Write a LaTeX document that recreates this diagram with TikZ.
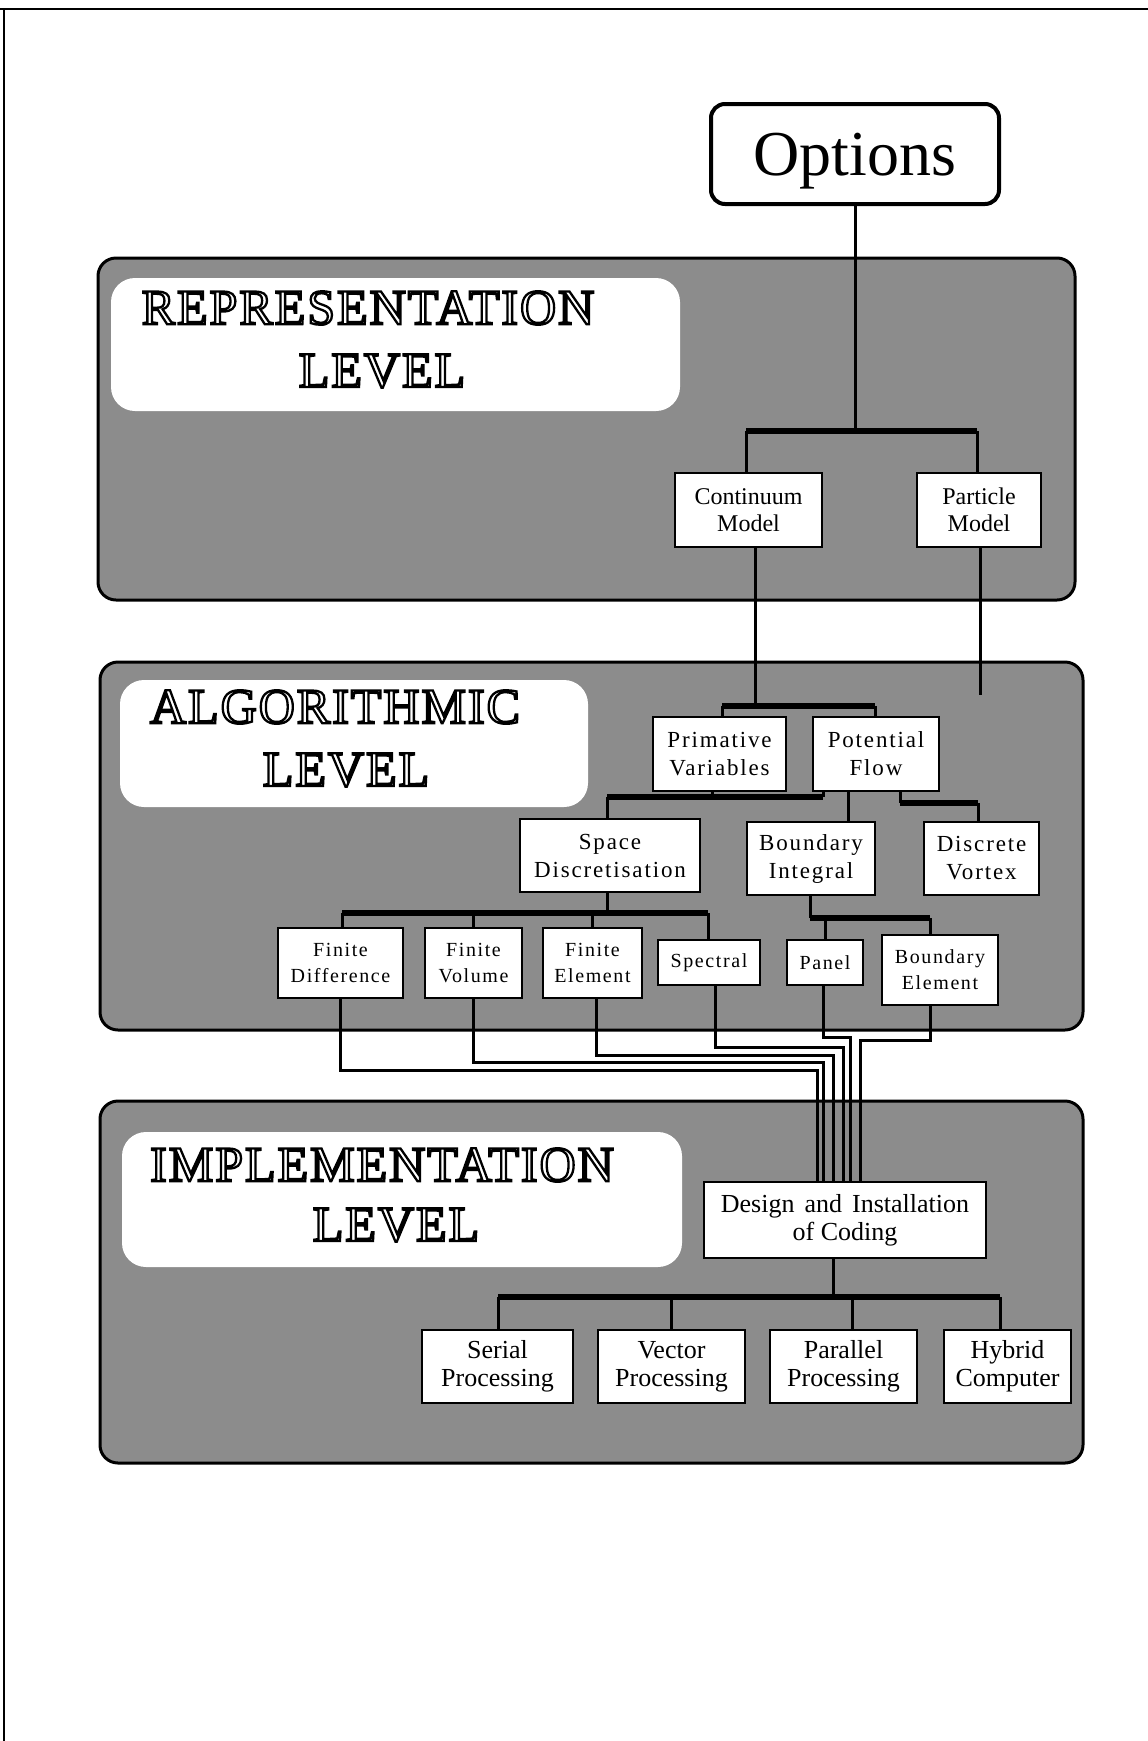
\documentclass[tikz,border=0pt]{standalone}
\usepackage{fontspec}
\setmainfont{Liberation Serif}
\newfontfamily\titlefont[LetterSpace=4]{Liberation Serif}
\newfontfamily\spacedfont[LetterSpace=8]{Liberation Serif}

% outlined capitals: white letters with a heavy black stroked outline
\newcommand\engraved[1]{%
  \special{pdf:literal direct 2 Tr 2.3 w 0 0 0 RG 1 1 1 rg}#1%
  \special{pdf:literal direct 0 Tr 0.4 w 0 0 0 RG 0 0 0 rg}}

\begin{document}
\begin{tikzpicture}[x=1pt, y=-1pt,
  panel/.style={draw=black, line width=3pt, fill=black!45, rounded corners=18pt, inner sep=0pt},
  titlebox/.style={fill=white, rounded corners=24pt, inner sep=0pt},
  titletext/.style={font=\titlefont\fontsize{50}{50}\selectfont, inner sep=0pt},
  box/.style={draw=black, line width=2.6pt, fill=white, inner sep=0pt, align=center},
  repbox/.style={box, font=\fontsize{24}{27}\selectfont},
  algbox/.style={box, font=\spacedfont\fontsize{23}{28}\selectfont},
  subbox/.style={box, font=\spacedfont\fontsize{20}{26}\selectfont},
  impbox/.style={box, font=\fontsize{26}{28}\selectfont},
  wire/.style={line width=3pt},
  bus/.style={line width=5.5pt}
]
\useasboundingbox (0,0) rectangle (1148,1741);

% page frame (top and left edges)
\draw[line width=2pt] (0,9) -- (1148,9);
\draw[line width=2pt] (4,9) -- (4,1741);

% ---------- level panels ----------
\node[panel, minimum width=977pt, minimum height=342pt] (reppanel) at (586.5,429) {};
\node[panel, minimum width=983pt, minimum height=368pt] (algpanel) at (591.5,846) {};
\node[panel, minimum width=983pt, minimum height=362pt] (imppanel) at (591.5,1282) {};

\node[titlebox, minimum width=569pt, minimum height=133pt] (reptitle) at (395.5,344.5) {};
\node[titlebox, minimum width=468pt, minimum height=127pt] (algtitle) at (354,743.5) {};
\node[titlebox, minimum width=560pt, minimum height=135pt] (imptitle) at (402,1199.5) {};

\node[titletext] (repA) at (368,308) {\engraved{REPRESENTATION}};
\node[titletext] (repB) at (382,371) {\engraved{LEVEL}};
\node[titletext] (algA) at (335,707) {\engraved{ALGORITHMIC}};
\node[titletext] (algB) at (346,770) {\engraved{LEVEL}};
\node[titletext] (impA) at (382,1165) {\engraved{IMPLEMENTATION}};
\node[titletext] (impB) at (396,1225) {\engraved{LEVEL}};

% ---------- nodes ----------
\node[box, line width=4pt, rounded corners=14pt, minimum width=288pt, minimum height=100pt,
      text depth=0pt, font=\fontsize{64}{64}\selectfont] (opt) at (855,154) {Options};

\node[repbox, minimum width=147pt, minimum height=74pt] (cont) at (748.5,510) {Continuum\\Model};
\node[repbox, minimum width=124pt, minimum height=74pt] (part) at (979,510) {Particle\\Model};

\node[algbox, minimum width=133pt, minimum height=74pt] (prim) at (719.5,754) {Primative\\Variables};
\node[algbox, minimum width=126pt, minimum height=74pt] (pot) at (876,754) {Potential\\Flow};

\node[algbox, minimum width=180pt, minimum height=73pt] (space) at (610,855.5) {Space\\Discretisation};
\node[algbox, minimum width=128pt, minimum height=73pt] (bint) at (811,858.5) {Boundary\\Integral};
\node[algbox, minimum width=115pt, minimum height=73pt] (dvort) at (981.5,858.5) {Discrete\\Vortex};

\node[subbox, minimum width=125pt, minimum height=70pt] (fd) at (340.5,963) {Finite\\Difference};
\node[subbox, minimum width=97pt, minimum height=70pt] (fv) at (473.5,963) {Finite\\Volume};
\node[subbox, minimum width=99pt, minimum height=70pt] (fe) at (592.5,963) {Finite\\Element};
\node[subbox, minimum width=102pt, minimum height=45pt] (spec) at (709,962.5) {Spectral};
\node[subbox, minimum width=76pt, minimum height=45pt] (panelbox) at (825,962.5) {Panel};
\node[subbox, minimum width=116pt, minimum height=70pt] (belem) at (940,970) {Boundary\\Element};

\node[impbox, minimum width=282pt, minimum height=76pt] (design) at (845,1220)
  {Design\hspace{10pt}and\hspace{10pt}Installation\\of Coding};
\node[impbox, minimum width=151pt, minimum height=73pt] (serial) at (497.5,1366.5) {Serial\\Processing};
\node[impbox, minimum width=147pt, minimum height=73pt] (vector) at (671.5,1366.5) {Vector\\Processing};
\node[impbox, minimum width=147pt, minimum height=73pt] (parallel) at (843.5,1366.5) {Parallel\\Processing};
\node[impbox, minimum width=127pt, minimum height=73pt] (hybrid) at (1007.5,1366.5) {Hybrid\\Computer};

% ---------- representation level connectors ----------
\coordinate (rbL) at (746,431);
\coordinate (rbR) at (977,431);
\draw[wire] (opt.south) -- (opt.south |- rbL);
\draw[bus] (rbL) -- (rbR);
\draw[wire] (rbL) -- (rbL |- cont.north);
\draw[wire] (rbR) -- (rbR |- part.north);

% ---------- algorithmic level connectors ----------
\coordinate (ab) at (755,706);
\coordinate (abL) at (722,706);
\coordinate (abR) at (875,706);
\coordinate (pend) at (980,695);
\draw[wire] (ab |- cont.south) -- (ab);
\draw[wire] (pend |- part.south) -- (pend);
\draw[bus] (abL) -- (abR);
\draw[wire] (abL) -- (abL |- prim.north);
\draw[wire] (abR) -- (abR |- pot.north);

\coordinate (sbP) at (712,797);
\coordinate (sbL) at (607,797);
\coordinate (sbR) at (823,797);
\draw[wire] (sbP |- prim.south) -- (sbP);
\draw[bus] (sbL) -- (sbR);
\draw[wire] (sbR) -- (sbR |- pot.south);
\draw[wire] (sbL) -- (sbL |- space.north);

\coordinate (biX) at (848,800);
\draw[wire] (biX |- pot.south) -- (biX |- bint.north);

\coordinate (dvA) at (900,803);
\coordinate (dvB) at (978,803);
\draw[wire] (dvA |- pot.south) -- (dvA);
\draw[bus] (dvA) -- (dvB);
\draw[wire] (dvB) -- (dvB |- dvort.north);

\coordinate (tbS) at (607,913);
\coordinate (tbL) at (342,913);
\coordinate (tbR) at (708,913);
\draw[wire] (tbS |- space.south) -- (tbS);
\draw[bus] (tbL) -- (tbR);
\draw[wire] (tbL) -- (tbL |- fd.north);
\draw[wire] (fv.north |- tbL) -- (fv.north);
\draw[wire] (fe.north |- tbL) -- (fe.north);
\draw[wire] (tbR) -- (tbR |- spec.north);

\coordinate (ibL) at (810,918);
\coordinate (ibR) at (930,918);
\draw[wire] (ibL |- bint.south) -- (ibL);
\draw[bus] (ibL) -- (ibR);
\draw[wire] (panelbox.north |- ibL) -- (panelbox.north);
\draw[wire] (ibR) -- (ibR |- belem.north);

% ---------- bundle into the coding box ----------
\coordinate (kFD) at (817,1070);
\coordinate (kFV) at (823,1062);
\coordinate (kFE) at (833,1055);
\coordinate (kSP) at (843,1047);
\coordinate (kPA) at (850,1037);
\coordinate (kBE) at (860,1040);
\draw[wire] (fd.south) |- (kFD) -- (kFD |- design.north);
\draw[wire] (fv.south) |- (kFV) -- (kFV |- design.north);
\draw[wire] ([xshift=4pt]fe.south) |- (kFE) -- (kFE |- design.north);
\draw[wire] ([xshift=6pt]spec.south) |- (kSP) -- (kSP |- design.north);
\draw[wire] ([xshift=-2pt]panelbox.south) |- (kPA) -- (kPA |- design.north);
\draw[wire] ([xshift=-10pt]belem.south) |- (kBE) -- (kBE |- design.north);

% ---------- implementation level connectors ----------
\coordinate (db) at (833,1297);
\coordinate (dbL) at (498,1297);
\coordinate (dbR) at (1000,1297);
\coordinate (dbP) at (852,1297);
\draw[wire] (db |- design.south) -- (db);
\draw[bus] (dbL) -- (dbR);
\draw[wire] (dbL) -- (dbL |- serial.north);
\draw[wire] (vector.north |- dbL) -- (vector.north);
\draw[wire] (dbP) -- (dbP |- parallel.north);
\draw[wire] (dbR) -- (dbR |- hybrid.north);
\end{tikzpicture}
\end{document}
